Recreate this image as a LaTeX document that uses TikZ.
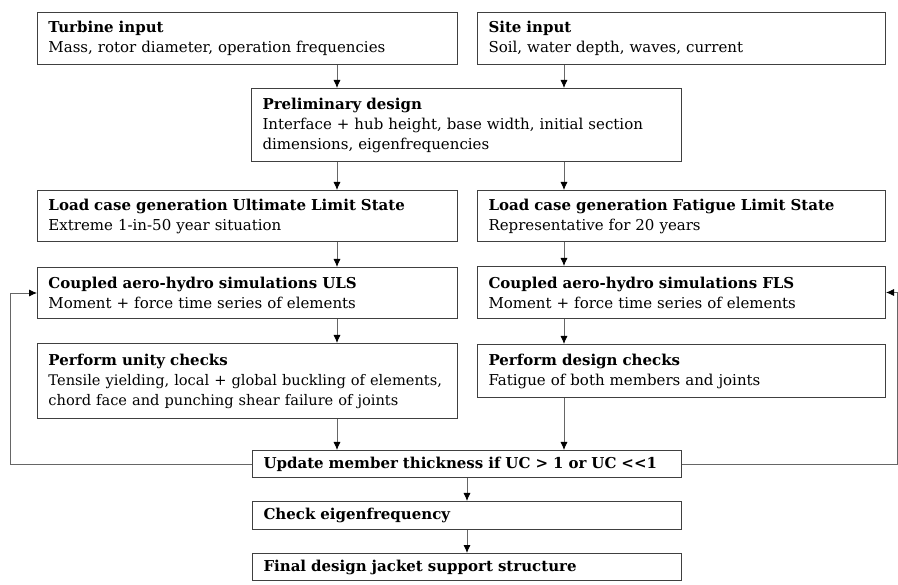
\documentclass[tikz,border=0pt]{standalone}
\usepackage{fontspec}
\setmainfont{DejaVu Serif}
\usetikzlibrary{arrows.meta}

\newlength{\du}
\setlength{\du}{1pt}
\definecolor{boxline}{rgb}{0.250000, 0.250000, 0.250000}
\definecolor{connline}{rgb}{0.400000, 0.400000, 0.400000}
\tikzset{
  stepbox/.style={rectangle, draw=boxline, fill=white, line width=1\du,
    anchor=north west, align=left, inner xsep=11\du, inner ysep=0pt,
    font=\fontsize{15}{20}\selectfont},
  conn/.style={draw=connline, line width=0.8\du, -{Latex[length=8pt,width=7pt,fill=black,color=black]}},
}

\begin{document}
\begin{tikzpicture}
\pgftransformxscale{1.000000}
\pgftransformyscale{-1.000000}
\useasboundingbox (0\du,0\du) rectangle (898\du,585\du);
% x positions of the vertical connectors and the loop returns
\coordinate (xl) at (337\du,0\du);
\coordinate (xr) at (564\du,0\du);
\coordinate (loopL) at (10\du,0\du);
\coordinate (loopR) at (897\du,0\du);
% inputs
\node[stepbox, text width=398\du, minimum height=52\du] (turbine) at (37\du,12\du)
  {\textbf{Turbine input}\\Mass, rotor diameter, operation frequencies};
\node[stepbox, text width=386\du, minimum height=52\du] (site) at (477\du,12\du)
  {\textbf{Site input}\\Soil, water depth, waves, current};
\node[stepbox, text width=408\du, minimum height=73\du] (prelim) at (251\du,88\du)
  {\textbf{Preliminary design}\\Interface + hub height, base width, initial section\\dimensions, eigenfrequencies};
% ULS branch
\node[stepbox, text width=398\du, minimum height=51\du] (ulsload) at (37\du,190\du)
  {\textbf{Load case generation Ultimate Limit State}\\Extreme 1-in-50 year situation};
\node[stepbox, text width=398\du, minimum height=51\du] (ulssim) at (37\du,267\du)
  {\textbf{Coupled aero-hydro simulations ULS}\\Moment + force time series of elements};
\node[stepbox, text width=398\du, minimum height=75\du] (unity) at (37\du,343\du)
  {\textbf{Perform unity checks}\\\fontsize{14.6}{20}\selectfont Tensile yielding, local + global buckling of elements,\\chord face and punching shear failure of joints};
% FLS branch
\node[stepbox, text width=386\du, minimum height=51\du] (flsload) at (477\du,190\du)
  {\textbf{Load case generation Fatigue Limit State}\\Representative for 20 years};
\node[stepbox, text width=386\du, minimum height=52\du] (flssim) at (477\du,266\du)
  {\textbf{Coupled aero-hydro simulations FLS}\\Moment + force time series of elements};
\node[stepbox, text width=386\du, minimum height=53\du] (design) at (477\du,344\du)
  {\textbf{Perform design checks}\\Fatigue of both members and joints};
% final steps
\node[stepbox, text width=407\du, minimum height=27\du] (update) at (252\du,450\du)
  {\textbf{Update member thickness if UC > 1 or UC <{}<1}};
\node[stepbox, text width=407\du, minimum height=28\du] (check) at (252\du,501\du)
  {\textbf{Check eigenfrequency}};
\node[stepbox, text width=407\du, minimum height=27\du] (final) at (252\du,553\du)
  {\textbf{Final design jacket support structure}};
% connectors
\draw[conn] (turbine.south -| xl) -- (prelim.north -| xl);
\draw[conn] (site.south -| xr) -- (prelim.north -| xr);
\draw[conn] (prelim.south -| xl) -- (ulsload.north -| xl);
\draw[conn] (prelim.south -| xr) -- (flsload.north -| xr);
\draw[conn] (ulsload.south -| xl) -- (ulssim.north -| xl);
\draw[conn] (flsload.south -| xr) -- (flssim.north -| xr);
\draw[conn] (ulssim.south -| xl) -- (unity.north -| xl);
\draw[conn] (flssim.south -| xr) -- (design.north -| xr);
\draw[conn] (unity.south -| xl) -- (update.north -| xl);
\draw[conn] (design.south -| xr) -- (update.north -| xr);
\draw[conn] (update.south) -- (check.north);
\draw[conn] (check.south) -- (final.north);
% iteration loops
\draw[conn] (update.west) -- (update.west -| loopL) |- (ulssim.west);
\draw[conn] (update.east) -- (update.east -| loopR) |- (flssim.east);
\end{tikzpicture}
\end{document}
